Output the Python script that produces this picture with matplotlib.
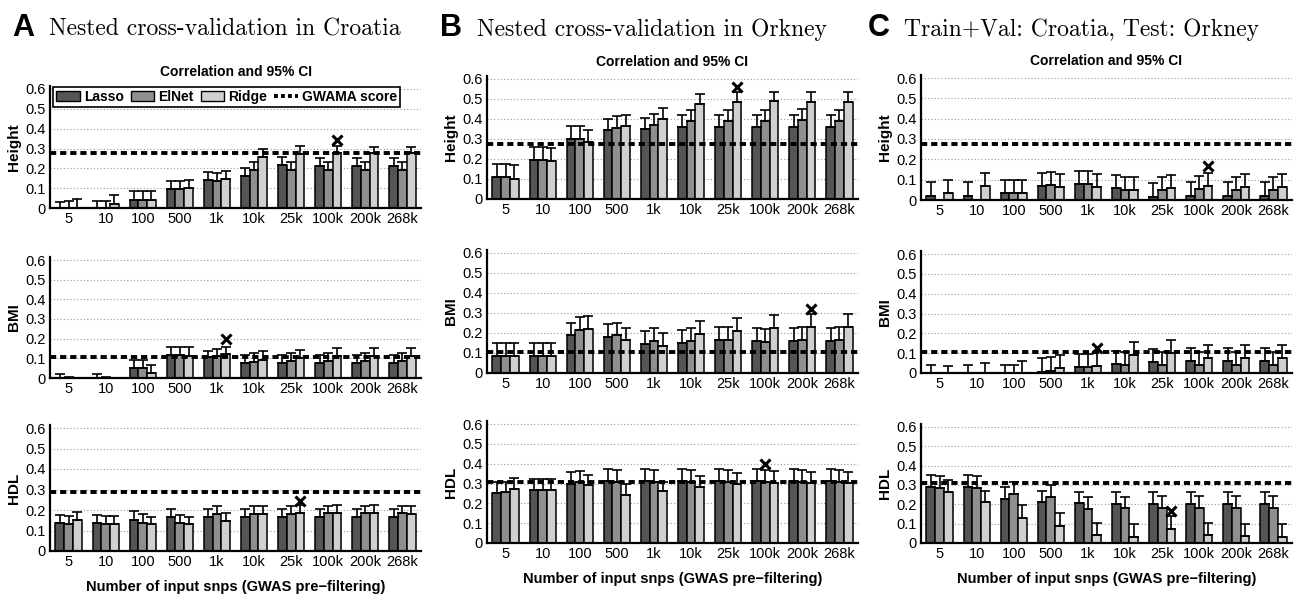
import numpy as np
import matplotlib
matplotlib.use("Agg")
import matplotlib.pyplot as plt
from matplotlib.patches import Patch
from matplotlib.lines import Line2D

# x categories (number of input snps)
snps = ["5", "10", "100", "500", "1k", "10k", "25k", "100k", "200k", "268k"]
models = ["Lasso", "ElNet", "Ridge"]
colors = ["#555555", "#8f8f8f", "#d0d0d0"]

# ---- A: nested CV in Croatia ----  rows: Lasso, ElNet, Ridge
a_height = [[0, 0, 0.042, 0.095, 0.142, 0.160, 0.215, 0.210, 0.210, 0.210],
            [0, 0, 0.042, 0.095, 0.137, 0.193, 0.193, 0.193, 0.193, 0.193],
            [0, 0.020, 0.042, 0.100, 0.146, 0.257, 0.274, 0.275, 0.275, 0.275]]
a_height_ci = [[0.029, 0.037, 0.084, 0.134, 0.184, 0.200, 0.255, 0.254, 0.254, 0.254],
               [0.034, 0.037, 0.084, 0.135, 0.176, 0.232, 0.232, 0.232, 0.232, 0.232],
               [0.045, 0.064, 0.084, 0.143, 0.188, 0.297, 0.313, 0.313, 0.310, 0.310]]
a_bmi = [[0, 0, 0.051, 0.118, 0.105, 0.077, 0.077, 0.076, 0.076, 0.076],
         [0, 0, 0.051, 0.118, 0.110, 0.082, 0.084, 0.085, 0.085, 0.085],
         [0, 0, 0.026, 0.113, 0.122, 0.093, 0.100, 0.110, 0.110, 0.110]]
a_bmi_ci = [[0.018, 0.020, 0.093, 0.160, 0.139, 0.118, 0.118, 0.118, 0.118, 0.118],
            [0.003, 0.005, 0.093, 0.160, 0.149, 0.127, 0.127, 0.127, 0.127, 0.127],
            [np.nan, np.nan, 0.068, 0.157, 0.160, 0.135, 0.140, 0.155, 0.155, 0.155]]
a_hdl = [[0.139, 0.139, 0.152, 0.166, 0.168, 0.168, 0.168, 0.168, 0.168, 0.168],
         [0.130, 0.132, 0.139, 0.139, 0.181, 0.181, 0.181, 0.184, 0.184, 0.184],
         [0.152, 0.130, 0.130, 0.130, 0.144, 0.181, 0.184, 0.184, 0.184, 0.181]]
a_hdl_ci = [[0.176, 0.176, 0.193, 0.207, 0.206, 0.206, 0.206, 0.206, 0.206, 0.206],
            [0.170, 0.172, 0.180, 0.178, 0.220, 0.220, 0.220, 0.220, 0.220, 0.220],
            [0.190, 0.170, 0.167, 0.167, 0.184, 0.220, 0.225, 0.224, 0.222, 0.220]]

# ---- B: nested CV in Orkney ----
b_height = [[0.110, 0.195, 0.300, 0.345, 0.350, 0.360, 0.360, 0.360, 0.360, 0.360],
            [0.110, 0.195, 0.300, 0.355, 0.370, 0.390, 0.390, 0.390, 0.395, 0.390],
            [0.100, 0.190, 0.285, 0.365, 0.400, 0.475, 0.485, 0.490, 0.485, 0.485]]
b_height_ci = [[0.175, 0.260, 0.365, 0.400, 0.405, 0.420, 0.420, 0.420, 0.420, 0.420],
               [0.175, 0.260, 0.365, 0.415, 0.425, 0.445, 0.445, 0.445, 0.450, 0.445],
               [0.170, 0.255, 0.345, 0.420, 0.455, 0.525, 0.535, 0.535, 0.535, 0.535]]
b_bmi = [[0.085, 0.085, 0.190, 0.180, 0.145, 0.150, 0.165, 0.160, 0.160, 0.160],
         [0.085, 0.085, 0.215, 0.190, 0.160, 0.160, 0.165, 0.155, 0.165, 0.165],
         [0.085, 0.085, 0.220, 0.165, 0.135, 0.195, 0.210, 0.225, 0.230, 0.230]]
b_bmi_ci = [[0.150, 0.150, 0.250, 0.245, 0.210, 0.215, 0.230, 0.225, 0.225, 0.225],
            [0.150, 0.150, 0.280, 0.250, 0.225, 0.225, 0.230, 0.220, 0.230, 0.230],
            [0.150, 0.150, 0.285, 0.225, 0.200, 0.260, 0.275, 0.290, 0.295, 0.295]]
b_hdl = [[0.250, 0.265, 0.300, 0.315, 0.315, 0.315, 0.315, 0.315, 0.315, 0.315],
         [0.255, 0.265, 0.310, 0.310, 0.310, 0.310, 0.310, 0.310, 0.310, 0.310],
         [0.270, 0.265, 0.290, 0.240, 0.260, 0.280, 0.300, 0.305, 0.305, 0.305]]
b_hdl_ci = [[0.310, 0.325, 0.360, 0.375, 0.375, 0.375, 0.375, 0.375, 0.375, 0.375],
            [0.310, 0.325, 0.365, 0.370, 0.370, 0.370, 0.370, 0.370, 0.370, 0.370],
            [0.330, 0.325, 0.345, 0.300, 0.310, 0.340, 0.355, 0.365, 0.360, 0.360]]

# ---- C: train+val Croatia, test Orkney ----
c_height = [[0.020, 0.020, 0.035, 0.070, 0.080, 0.060, 0.015, 0.020, 0.020, 0.020],
            [0, 0, 0.035, 0.075, 0.080, 0.050, 0.050, 0.055, 0.050, 0.050],
            [0.035, 0.070, 0.035, 0.065, 0.065, 0.050, 0.060, 0.070, 0.065, 0.065]]
c_height_ci = [[0.090, 0.090, 0.100, 0.135, 0.145, 0.125, 0.085, 0.090, 0.090, 0.090],
               [np.nan, np.nan, 0.100, 0.140, 0.145, 0.115, 0.115, 0.120, 0.115, 0.115],
               [0.100, 0.135, 0.100, 0.130, 0.130, 0.115, 0.125, 0.135, 0.130, 0.130]]
c_bmi = [[0, 0, 0, 0.005, 0.030, 0.045, 0.055, 0.060, 0.060, 0.060],
         [0, 0, 0, 0.010, 0.030, 0.040, 0.040, 0.040, 0.040, 0.040],
         [0, 0, 0, 0.025, 0.035, 0.090, 0.100, 0.075, 0.075, 0.075]]
c_bmi_ci = [[0.040, 0.040, 0.040, 0.075, 0.095, 0.110, 0.120, 0.125, 0.125, 0.125],
            [np.nan, np.nan, 0.040, 0.080, 0.095, 0.105, 0.105, 0.105, 0.105, 0.105],
            [0.035, 0.050, 0.060, 0.090, 0.105, 0.155, 0.165, 0.140, 0.140, 0.140]]
c_hdl = [[0.290, 0.290, 0.230, 0.210, 0.205, 0.200, 0.200, 0.200, 0.200, 0.200],
         [0.285, 0.285, 0.255, 0.240, 0.175, 0.180, 0.180, 0.180, 0.180, 0.180],
         [0.265, 0.210, 0.130, 0.090, 0.040, 0.030, 0.075, 0.040, 0.035, 0.030]]
c_hdl_ci = [[0.350, 0.350, 0.290, 0.270, 0.265, 0.265, 0.265, 0.265, 0.265, 0.265],
            [0.345, 0.345, 0.315, 0.300, 0.240, 0.240, 0.245, 0.245, 0.245, 0.245],
            [0.325, 0.270, 0.195, 0.155, 0.105, 0.100, 0.140, 0.105, 0.100, 0.100]]

# GWAMA score per column (Height, BMI, HDL)
gwama_a = [0.275, 0.105, 0.290]
gwama_b = [0.275, 0.105, 0.310]
gwama_c = [0.275, 0.105, 0.310]

# best model marker: (group index, model index, y)
best_a = [(7, 2, 0.345), (4, 2, 0.198), (6, 2, 0.245)]
best_b = [(6, 2, 0.560), (8, 2, 0.320), (7, 1, 0.400)]
best_c = [(7, 2, 0.165), (4, 2, 0.125), (6, 2, 0.165)]

traits = ["Height", "BMI", "HDL"]
panels = [
    ("A", "Nested cross-validation in Croatia", [a_height, a_bmi, a_hdl],
     [a_height_ci, a_bmi_ci, a_hdl_ci], gwama_a, best_a),
    ("B", "Nested cross-validation in Orkney", [b_height, b_bmi, b_hdl],
     [b_height_ci, b_bmi_ci, b_hdl_ci], gwama_b, best_b),
    ("C", "Train+Val: Croatia, Test: Orkney", [c_height, c_bmi, c_hdl],
     [c_height_ci, c_bmi_ci, c_hdl_ci], gwama_c, best_c),
]

W, H = 1299, 597
# axes boxes in pixels: (left, right), rows (top of 0.6, y of 0)
col_x = [(50, 421), (487, 858), (921, 1292)]
row_y = [[(89, 208), (260, 378), (428, 551)],
         [(79, 199), (253, 373), (424, 543)],
         [(78, 200), (254, 373), (427, 543)]]
letter_x = [12, 440, 868]
title_x = [49, 477, 904]
title_y = [36, 36, 36]

sans = ["Liberation Sans", "DejaVu Sans"]
plt.rcParams["font.family"] = sans

fig = plt.figure(figsize=(W / 100, H / 100), dpi=100)
x = np.arange(1, 11)
bw = 0.235
ytop = 0.615

for ci, (letter, title, vals, cis, gw, best) in enumerate(panels):
    fig.text(letter_x[ci] / W, 1 - title_y[ci] / H, letter, fontsize=22,
             fontweight="bold", ha="left", va="baseline")
    fig.text(title_x[ci] / W, 1 - title_y[ci] / H, title, fontsize=17,
             family="cmr10", ha="left", va="baseline")
    x0, x1 = col_x[ci]
    for ri in range(3):
        yt, yb = row_y[ci][ri]
        pxh = (yb - yt) / 0.6 * ytop
        ax = fig.add_axes([x0 / W, 1 - yb / H, (x1 - x0) / W, pxh / H])
        ax.set_axisbelow(True)
        ax.yaxis.grid(True, linestyle=(0, (1, 2)), color="#9a9a9a", lw=0.8)
        for mi in range(3):
            v = np.array(vals[ri][mi], dtype=float)
            up = np.array(cis[ri][mi], dtype=float) - v
            pos = x + (mi - 1) * bw
            ax.bar(pos, v, width=bw, color=colors[mi], edgecolor="black",
                   linewidth=1.1, label=models[mi], zorder=2)
            ax.errorbar(pos, v, yerr=[np.zeros_like(v), up], fmt="none",
                        ecolor="black", elinewidth=1.2, capsize=3.5,
                        capthick=1.2, zorder=3)
        ax.axhline(gw[ri], color="black", lw=2.8, dashes=(1.6, 1.0),
                   zorder=4, label="GWAMA score")
        g, m, yv = best[ri]
        ax.plot(x[g] + (m - 1) * bw, yv, marker="x", color="black",
                markersize=7, mew=2.2, zorder=5)
        ax.set_xlim(0.5, 10.5)
        ax.set_ylim(0, ytop)
        ax.set_yticks([0, 0.1, 0.2, 0.3, 0.4, 0.5, 0.6])
        ax.set_yticklabels(["0", "0.1", "0.2", "0.3", "0.4", "0.5", "0.6"])
        ax.set_xticks(x)
        ax.set_xticklabels(snps)
        ax.tick_params(length=0, labelsize=10.5, pad=3)
        ax.spines["top"].set_visible(False)
        ax.spines["right"].set_visible(False)
        ax.spines["left"].set_linewidth(1.6)
        ax.spines["bottom"].set_linewidth(1.6)
        ax.set_ylabel(traits[ri], fontsize=11, fontweight="bold", labelpad=3)
        if ri == 0:
            ax.set_title("Correlation and 95% CI", fontsize=10,
                         fontweight="bold", pad=7.5)
        if ri == 2:
            ax.set_xlabel("Number of input snps (GWAS pre\u2212filtering)",
                          fontsize=10.5, fontweight="bold", labelpad=8)
        if ci == 0 and ri == 0:
            handles = [Patch(facecolor=colors[k], edgecolor="black",
                             label=models[k]) for k in range(3)]
            handles.append(Line2D([0], [0], color="black", lw=2.8,
                                  dashes=(1.0, 0.8), label="GWAMA score"))
            leg = ax.legend(handles=handles, ncol=4, loc="upper left",
                            bbox_to_anchor=(0.005, 1.0), fancybox=False,
                            edgecolor="black", framealpha=1,
                            prop={"weight": "bold", "size": 10},
                            handlelength=1.7, handletextpad=0.3,
                            columnspacing=0.5, borderpad=0.2,
                            borderaxespad=0.1)
            leg.get_frame().set_linewidth(1.2)

fig.savefig("out.png", dpi=100)
